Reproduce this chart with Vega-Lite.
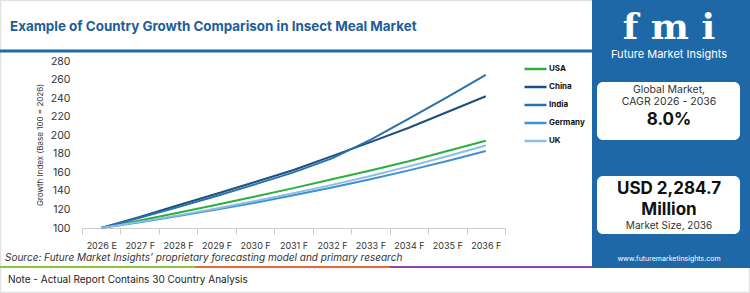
{
  "$schema": "https://vega.github.io/schema/vega-lite/v6.json",
  "width": 423,
  "height": 167,
  "autosize": {"type": "none"},
  "padding": {"left": 82, "top": 61, "right": 245, "bottom": 65},
  "background": "white",
  "config": {"view": {"stroke": null}, "font": "Inter"},
  "layer": [
    {
      "data": {"values": [{}]},
      "mark": {"type": "rect", "filled": false, "stroke": "#e2e2e2", "strokeWidth": 1.5},
      "encoding": {"x": {"value": -81.5}, "x2": {"value": 667.5}, "y": {"value": -60.5}, "y2": {"value": 231.5}}
    },
    {
      "data": {"values": [{}]},
      "mark": {"type": "rect", "color": "#1f68a8"},
      "encoding": {"x": {"value": 510}, "x2": {"value": 668}, "y": {"value": -61}, "y2": {"value": 207}}
    },
    {
      "data": {"values": [{}]},
      "mark": {"type": "rect", "color": "#1f6aa8"},
      "encoding": {"x": {"value": -82}, "x2": {"value": 510}, "y": {"value": -11.5}, "y2": {"value": -8.5}}
    },
    {
      "data": {"values": [{"t": "Example of Country Growth Comparison in Insect Meal Market"}]},
      "mark": {"type": "text", "align": "left", "baseline": "middle", "fontSize": 13.4, "fontWeight": "bold", "color": "#1d5d99"},
      "encoding": {"x": {"value": -72}, "y": {"value": -34}, "text": {"field": "t"}}
    },
    {
      "data": {"values": [{"t": "f m i"}]},
      "mark": {"type": "text", "align": "center", "baseline": "middle", "font": "DejaVu Serif", "fontSize": 36, "fontWeight": "bold", "color": "white"},
      "encoding": {"x": {"value": 587}, "y": {"value": -33}, "text": {"field": "t"}}
    },
    {
      "data": {"values": [{"t": "Future Market Insights"}]},
      "mark": {"type": "text", "align": "center", "baseline": "middle", "fontSize": 11, "color": "white"},
      "encoding": {"x": {"value": 587}, "y": {"value": -6}, "text": {"field": "t"}}
    },
    {
      "data": {"values": [{}]},
      "mark": {"type": "rect", "color": "white", "cornerRadius": 6},
      "encoding": {"x": {"value": 515}, "x2": {"value": 658}, "y": {"value": 21}, "y2": {"value": 79}}
    },
    {
      "data": {"values": [{}]},
      "mark": {"type": "rect", "color": "white", "cornerRadius": 6},
      "encoding": {"x": {"value": 515}, "x2": {"value": 658}, "y": {"value": 115}, "y2": {"value": 173}}
    },
    {
      "data": {"values": [{"t": "Global Market,"}]},
      "mark": {"type": "text", "align": "center", "baseline": "middle", "fontSize": 10.5, "color": "#333"},
      "encoding": {"x": {"value": 587}, "y": {"value": 29}, "text": {"field": "t"}}
    },
    {
      "data": {"values": [{"t": "CAGR 2026 - 2036"}]},
      "mark": {"type": "text", "align": "center", "baseline": "middle", "fontSize": 10.5, "color": "#333"},
      "encoding": {"x": {"value": 587}, "y": {"value": 41}, "text": {"field": "t"}}
    },
    {
      "data": {"values": [{"t": "8.0%"}]},
      "mark": {"type": "text", "align": "center", "baseline": "middle", "fontSize": 17, "fontWeight": "bold", "color": "#111"},
      "encoding": {"x": {"value": 587}, "y": {"value": 59}, "text": {"field": "t"}}
    },
    {
      "data": {"values": [{"t": "USD 2,284.7"}]},
      "mark": {"type": "text", "align": "center", "baseline": "middle", "fontSize": 17, "fontWeight": "bold", "color": "#111"},
      "encoding": {"x": {"value": 587}, "y": {"value": 128}, "text": {"field": "t"}}
    },
    {
      "data": {"values": [{"t": "Million"}]},
      "mark": {"type": "text", "align": "center", "baseline": "middle", "fontSize": 17, "fontWeight": "bold", "color": "#111"},
      "encoding": {"x": {"value": 587}, "y": {"value": 149}, "text": {"field": "t"}}
    },
    {
      "data": {"values": [{"t": "Market Size, 2036"}]},
      "mark": {"type": "text", "align": "center", "baseline": "middle", "fontSize": 10, "color": "#333"},
      "encoding": {"x": {"value": 587}, "y": {"value": 165}, "text": {"field": "t"}}
    },
    {
      "data": {"values": [{"t": "www.futuremarketinsights.com"}]},
      "mark": {"type": "text", "align": "center", "baseline": "middle", "fontSize": 7, "color": "white"},
      "encoding": {"x": {"value": 587}, "y": {"value": 198}, "text": {"field": "t"}}
    },
    {
      "data": {"values": [{"t": "Source: Future Market Insights’ proprietary forecasting model and primary research"}]},
      "mark": {"type": "text", "align": "left", "baseline": "middle", "fontSize": 10, "fontStyle": "italic", "color": "#333"},
      "encoding": {"x": {"value": -77}, "y": {"value": 197}, "text": {"field": "t"}}
    },
    {
      "data": {"values": [{}]},
      "mark": {"type": "rect", "color": "#8dc63f"},
      "encoding": {"x": {"value": -82}, "x2": {"value": 113}, "y": {"value": 205}, "y2": {"value": 207}}
    },
    {
      "data": {"values": [{}]},
      "mark": {"type": "rect", "color": "#e8663a"},
      "encoding": {"x": {"value": 113}, "x2": {"value": 308}, "y": {"value": 205}, "y2": {"value": 207}}
    },
    {
      "data": {"values": [{}]},
      "mark": {"type": "rect", "color": "#8e44ad"},
      "encoding": {"x": {"value": 308}, "x2": {"value": 510}, "y": {"value": 205}, "y2": {"value": 207}}
    },
    {
      "data": {"values": [{"t": "Note - Actual Report Contains 30 Country Analysis"}]},
      "mark": {"type": "text", "align": "left", "baseline": "middle", "fontSize": 10, "color": "#222"},
      "encoding": {"x": {"value": -74}, "y": {"value": 219}, "text": {"field": "t"}}
    },
    {
      "data": {
        "values": [
          {"year": "2026 E", "country": "USA", "index": 100},
          {"year": "2027 F", "country": "USA", "index": 108},
          {"year": "2028 F", "country": "USA", "index": 116.5},
          {"year": "2029 F", "country": "USA", "index": 125},
          {"year": "2030 F", "country": "USA", "index": 134},
          {"year": "2031 F", "country": "USA", "index": 143},
          {"year": "2032 F", "country": "USA", "index": 152.5},
          {"year": "2033 F", "country": "USA", "index": 162},
          {"year": "2034 F", "country": "USA", "index": 172},
          {"year": "2035 F", "country": "USA", "index": 183},
          {"year": "2036 F", "country": "USA", "index": 194},
          {"year": "2026 E", "country": "China", "index": 100},
          {"year": "2027 F", "country": "China", "index": 112},
          {"year": "2028 F", "country": "China", "index": 124.5},
          {"year": "2029 F", "country": "China", "index": 137},
          {"year": "2030 F", "country": "China", "index": 149.5},
          {"year": "2031 F", "country": "China", "index": 162.5},
          {"year": "2032 F", "country": "China", "index": 177.5},
          {"year": "2033 F", "country": "China", "index": 192.5},
          {"year": "2034 F", "country": "China", "index": 208},
          {"year": "2035 F", "country": "China", "index": 225},
          {"year": "2036 F", "country": "China", "index": 242},
          {"year": "2026 E", "country": "India", "index": 100},
          {"year": "2027 F", "country": "India", "index": 111},
          {"year": "2028 F", "country": "India", "index": 122.5},
          {"year": "2029 F", "country": "India", "index": 134.5},
          {"year": "2030 F", "country": "India", "index": 147},
          {"year": "2031 F", "country": "India", "index": 160},
          {"year": "2032 F", "country": "India", "index": 175},
          {"year": "2033 F", "country": "India", "index": 195},
          {"year": "2034 F", "country": "India", "index": 218},
          {"year": "2035 F", "country": "India", "index": 241},
          {"year": "2036 F", "country": "India", "index": 265},
          {"year": "2026 E", "country": "Germany", "index": 100},
          {"year": "2027 F", "country": "Germany", "index": 106.2},
          {"year": "2028 F", "country": "Germany", "index": 112.9},
          {"year": "2029 F", "country": "Germany", "index": 119.9},
          {"year": "2030 F", "country": "Germany", "index": 127.3},
          {"year": "2031 F", "country": "Germany", "index": 135.3},
          {"year": "2032 F", "country": "Germany", "index": 143.7},
          {"year": "2033 F", "country": "Germany", "index": 152.6},
          {"year": "2034 F", "country": "Germany", "index": 162.1},
          {"year": "2035 F", "country": "Germany", "index": 172.2},
          {"year": "2036 F", "country": "Germany", "index": 183},
          {"year": "2026 E", "country": "UK", "index": 100},
          {"year": "2027 F", "country": "UK", "index": 106.6},
          {"year": "2028 F", "country": "UK", "index": 113.6},
          {"year": "2029 F", "country": "UK", "index": 121},
          {"year": "2030 F", "country": "UK", "index": 129},
          {"year": "2031 F", "country": "UK", "index": 137.5},
          {"year": "2032 F", "country": "UK", "index": 146.5},
          {"year": "2033 F", "country": "UK", "index": 156.1},
          {"year": "2034 F", "country": "UK", "index": 166.4},
          {"year": "2035 F", "country": "UK", "index": 177.3},
          {"year": "2036 F", "country": "UK", "index": 189}
        ]
      },
      "mark": {"type": "line", "strokeWidth": 2},
      "encoding": {
        "x": {
          "field": "year",
          "type": "ordinal",
          "sort": null,
          "bandPosition": 0.5,
          "scale": {"type": "band", "paddingInner": 0, "paddingOuter": 0},
          "axis": {
            "title": null,
            "labelAngle": 0,
            "labelFontSize": 9,
            "labelColor": "#333",
            "labelPadding": 7,
            "domainColor": "#cccccc",
            "tickColor": "#cccccc",
            "tickSize": 6,
            "tickBand": "extent",
            "grid": false
          }
        },
        "y": {
          "field": "index",
          "type": "quantitative",
          "scale": {"domain": [100, 280], "nice": false, "zero": false},
          "axis": {
            "title": "Growth Index (Base 100 = 2026)",
            "titleFontSize": 8,
            "titleFontWeight": "normal",
            "titleColor": "#333",
            "titlePadding": 6,
            "values": [100, 120, 140, 160, 180, 200, 220, 240, 260, 280],
            "labelFontSize": 10.5,
            "labelColor": "#333",
            "labelPadding": 12,
            "domain": false,
            "ticks": false,
            "grid": false
          }
        },
        "color": {
          "field": "country",
          "type": "nominal",
          "scale": {
            "domain": ["USA", "China", "India", "Germany", "UK"],
            "range": ["#2bb03b", "#1b4f82", "#2a70a9", "#3f8fd4", "#8cbde6"]
          },
          "legend": {
            "title": null,
            "orient": "none",
            "legendX": 441,
            "legendY": -4.5,
            "padding": 0,
            "symbolType": "stroke",
            "symbolStrokeWidth": 2.5,
            "symbolSize": 484,
            "labelFontSize": 8,
            "labelFontWeight": "bold",
            "labelColor": "#111",
            "labelOffset": 1,
            "rowPadding": 0
          }
        }
      }
    }
  ]
}
